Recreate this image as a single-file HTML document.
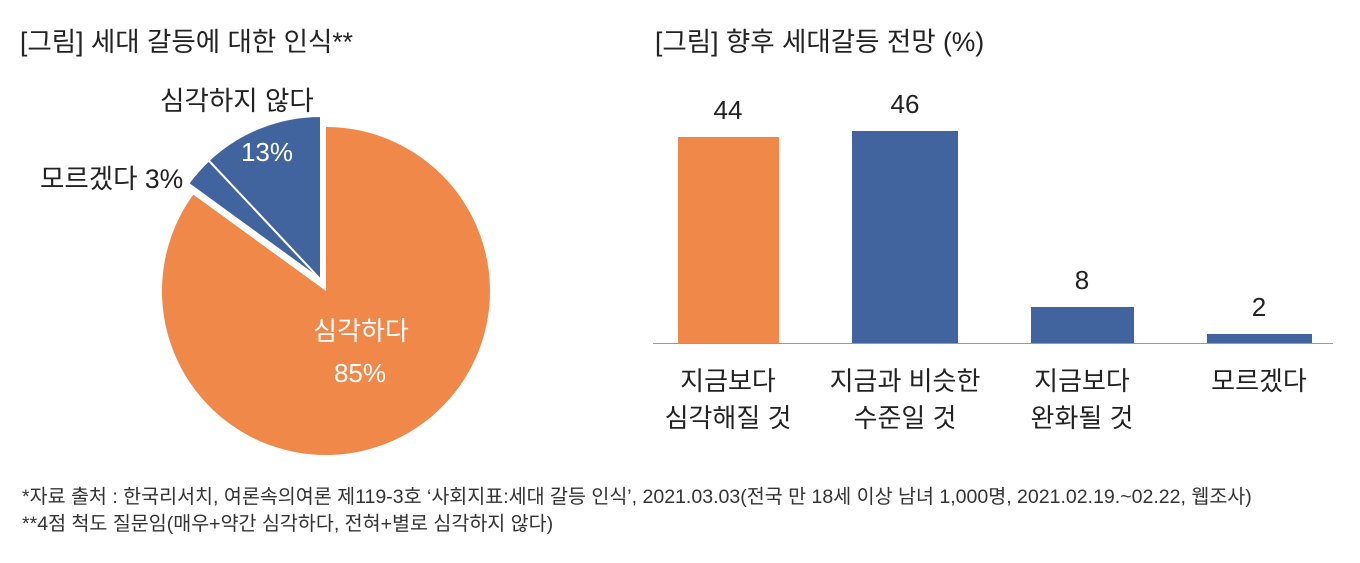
<!DOCTYPE html>
<html><head><meta charset="utf-8"><style>
body{margin:0;width:1360px;height:558px;background:#fff;overflow:hidden;font-family:"Liberation Sans","Noto Sans CJK KR",sans-serif;}
</style></head><body>
<svg width="1360" height="558" xmlns="http://www.w3.org/2000/svg" style="font-family:'Liberation Sans','Noto Sans CJK KR',sans-serif">
<text x="20" y="51" font-size="26.5" fill="#222">[그림] 세대 갈등에 대한 인식**</text>
<text x="655" y="51" font-size="26.5" fill="#222">[그림] 향후 세대갈등 전망 (%)</text>
<path d="M326,291 L326,127 A164,164 0 1 1 193.3,194.6 Z" fill="#EF8848"/>
<g transform="translate(-5,-11)" stroke="#fff" stroke-width="2">
<path d="M326,291 L193.3,194.6 A164,164 0 0 1 213.7,171.4 Z" fill="#41639E"/>
<path d="M326,291 L213.7,171.4 A164,164 0 0 1 326,127 Z" fill="#41639E"/>
</g>
<text x="361" y="340" font-size="26" fill="#fff" text-anchor="middle">심각하다</text>
<text x="360" y="382" font-size="26" fill="#fff" text-anchor="middle">85%</text>
<text x="267" y="161" font-size="26" fill="#fff" text-anchor="middle">13%</text>
<text x="237" y="110" font-size="26.5" fill="#222" text-anchor="middle">심각하지 않다</text>
<text x="40" y="188" font-size="26.5" fill="#222">모르겠다 3%</text>
<rect x="678" y="137" width="101" height="206" fill="#EF8848"/>
<rect x="852" y="131" width="106" height="212" fill="#41639E"/>
<rect x="1031" y="307" width="103" height="36" fill="#41639E"/>
<rect x="1207" y="334" width="105" height="9" fill="#41639E"/>
<line x1="653" y1="343.5" x2="1333" y2="343.5" stroke="#999" stroke-width="1"/>
<g font-size="26" fill="#222" text-anchor="middle">
<text x="728" y="119">44</text><text x="905" y="113">46</text><text x="1082" y="289">8</text><text x="1259" y="316">2</text>
<text x="728" y="390">지금보다</text><text x="728" y="427">심각해질 것</text>
<text x="905" y="390">지금과 비슷한</text><text x="905" y="427">수준일 것</text>
<text x="1082" y="390">지금보다</text><text x="1082" y="427">완화될 것</text>
<text x="1259" y="390">모르겠다</text>
</g>
<text x="22" y="503" font-size="19.55" fill="#333">*자료 출처 : 한국리서치, 여론속의여론 제119-3호 ‘사회지표:세대 갈등 인식’, 2021.03.03(전국 만 18세 이상 남녀 1,000명, 2021.02.19.~02.22, 웹조사)</text>
<text x="22" y="530" font-size="19.55" fill="#333">**4점 척도 질문임(매우+약간 심각하다, 전혀+별로 심각하지 않다)</text>
</svg>
</body></html>
